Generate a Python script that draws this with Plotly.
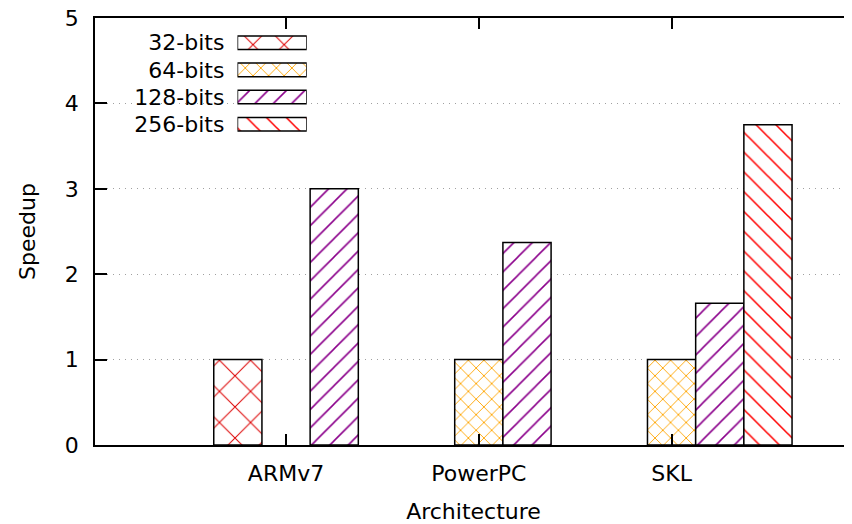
import plotly.graph_objects as go

# ---- data ----
categories = ["ARMv7", "PowerPC", "SKL"]
series_names = ["32-bits", "64-bits", "128-bits", "256-bits"]
bits32 = [1.0, None, None]
bits64 = [None, 1.0, 1.0]
bits128 = [3.0, 2.37, 1.66]
bits256 = [None, None, 3.75]
y_ticks = [0, 1, 2, 3, 4, 5]

series_values = [bits32, bits64, bits128, bits256]
styles = [
    dict(color="#dd0000", shape="x", size=22, solidity=0.09),
    dict(color="#ffa500", shape="x", size=11, solidity=0.16),
    dict(color="#8b008b", shape="/", size=13, solidity=0.12),
    dict(color="#ff0000", shape="\\", size=14, solidity=0.11),
]

FONT = "DejaVu Sans"
FS = 22
fig = go.Figure()

slot = 0.25
xpos = list(range(len(categories)))
for j, (name, vals, st) in enumerate(zip(series_names, series_values, styles)):
    pattern = dict(shape=st["shape"], fgcolor=st["color"], bgcolor="white",
                   fgopacity=1, size=st["size"], solidity=st["solidity"],
                   fillmode="overlay")
    fig.add_trace(go.Bar(
        x=xpos, y=vals, name=name, width=slot, offset=-0.375 + slot * j,
        marker=dict(color="white", line=dict(color="black", width=1.5), pattern=pattern),
        showlegend=False, xaxis="x", yaxis="y",
    ))
    # key sample drawn on a small inset axis
    fig.add_trace(go.Bar(
        x=[1], y=[name], orientation="h", width=0.5, name=name,
        marker=dict(color="white", line=dict(color="black", width=1.5), pattern=pattern),
        showlegend=False, xaxis="x2", yaxis="y2", cliponaxis=False,
    ))

# the page body has an 8px margin, so the figure is 8px smaller and margins shifted
fig.update_layout(
    width=844, height=516,
    margin=dict(l=87, r=0, t=10, b=79),
    paper_bgcolor="white", plot_bgcolor="white",
    font=dict(family=FONT, size=FS, color="black"),
    barmode="overlay",
    showlegend=False,
    xaxis=dict(
        range=[-0.991, 2.936], tickvals=xpos, ticktext=categories,
        ticks="inside", ticklen=11, tickwidth=1.5, tickcolor="black",
        showline=True, linecolor="black", linewidth=1.5, mirror="ticks",
        showgrid=False, zeroline=False, ticklabelstandoff=8, automargin=False,
        title=dict(text="Architecture", standoff=21, font=dict(size=FS)),
    ),
    yaxis=dict(
        range=[0, 5], tickvals=y_ticks,
        ticks="inside", ticklen=12, tickwidth=1.5, tickcolor="black",
        showline=True, linecolor="black", linewidth=1.5, mirror=False,
        showgrid=True, gridcolor="#a0a0a0", gridwidth=1, griddash="1px,5px",
        zeroline=False, ticklabelstandoff=10, automargin=False,
        ticklabeloverflow="allow",
        title=dict(text="Speedup", standoff=23, font=dict(size=FS)),
    ),
    xaxis2=dict(domain=[0.1882, 0.2797], anchor="y2", range=[0, 1],
                visible=False, fixedrange=True, automargin=False),
    yaxis2=dict(domain=[0.7194, 0.974], anchor="x2", type="category",
                categoryorder="array", categoryarray=series_names[::-1],
                showline=False, showgrid=False, zeroline=False, ticks="",
                ticklabelstandoff=12, fixedrange=True, automargin=False),
    shapes=[dict(type="rect", xref="paper", yref="paper", x0=0.004, x1=0.30,
                 y0=0.714, y1=0.984, fillcolor="white", line=dict(width=0),
                 layer="between")],
)

fig.write_html("out.html")
